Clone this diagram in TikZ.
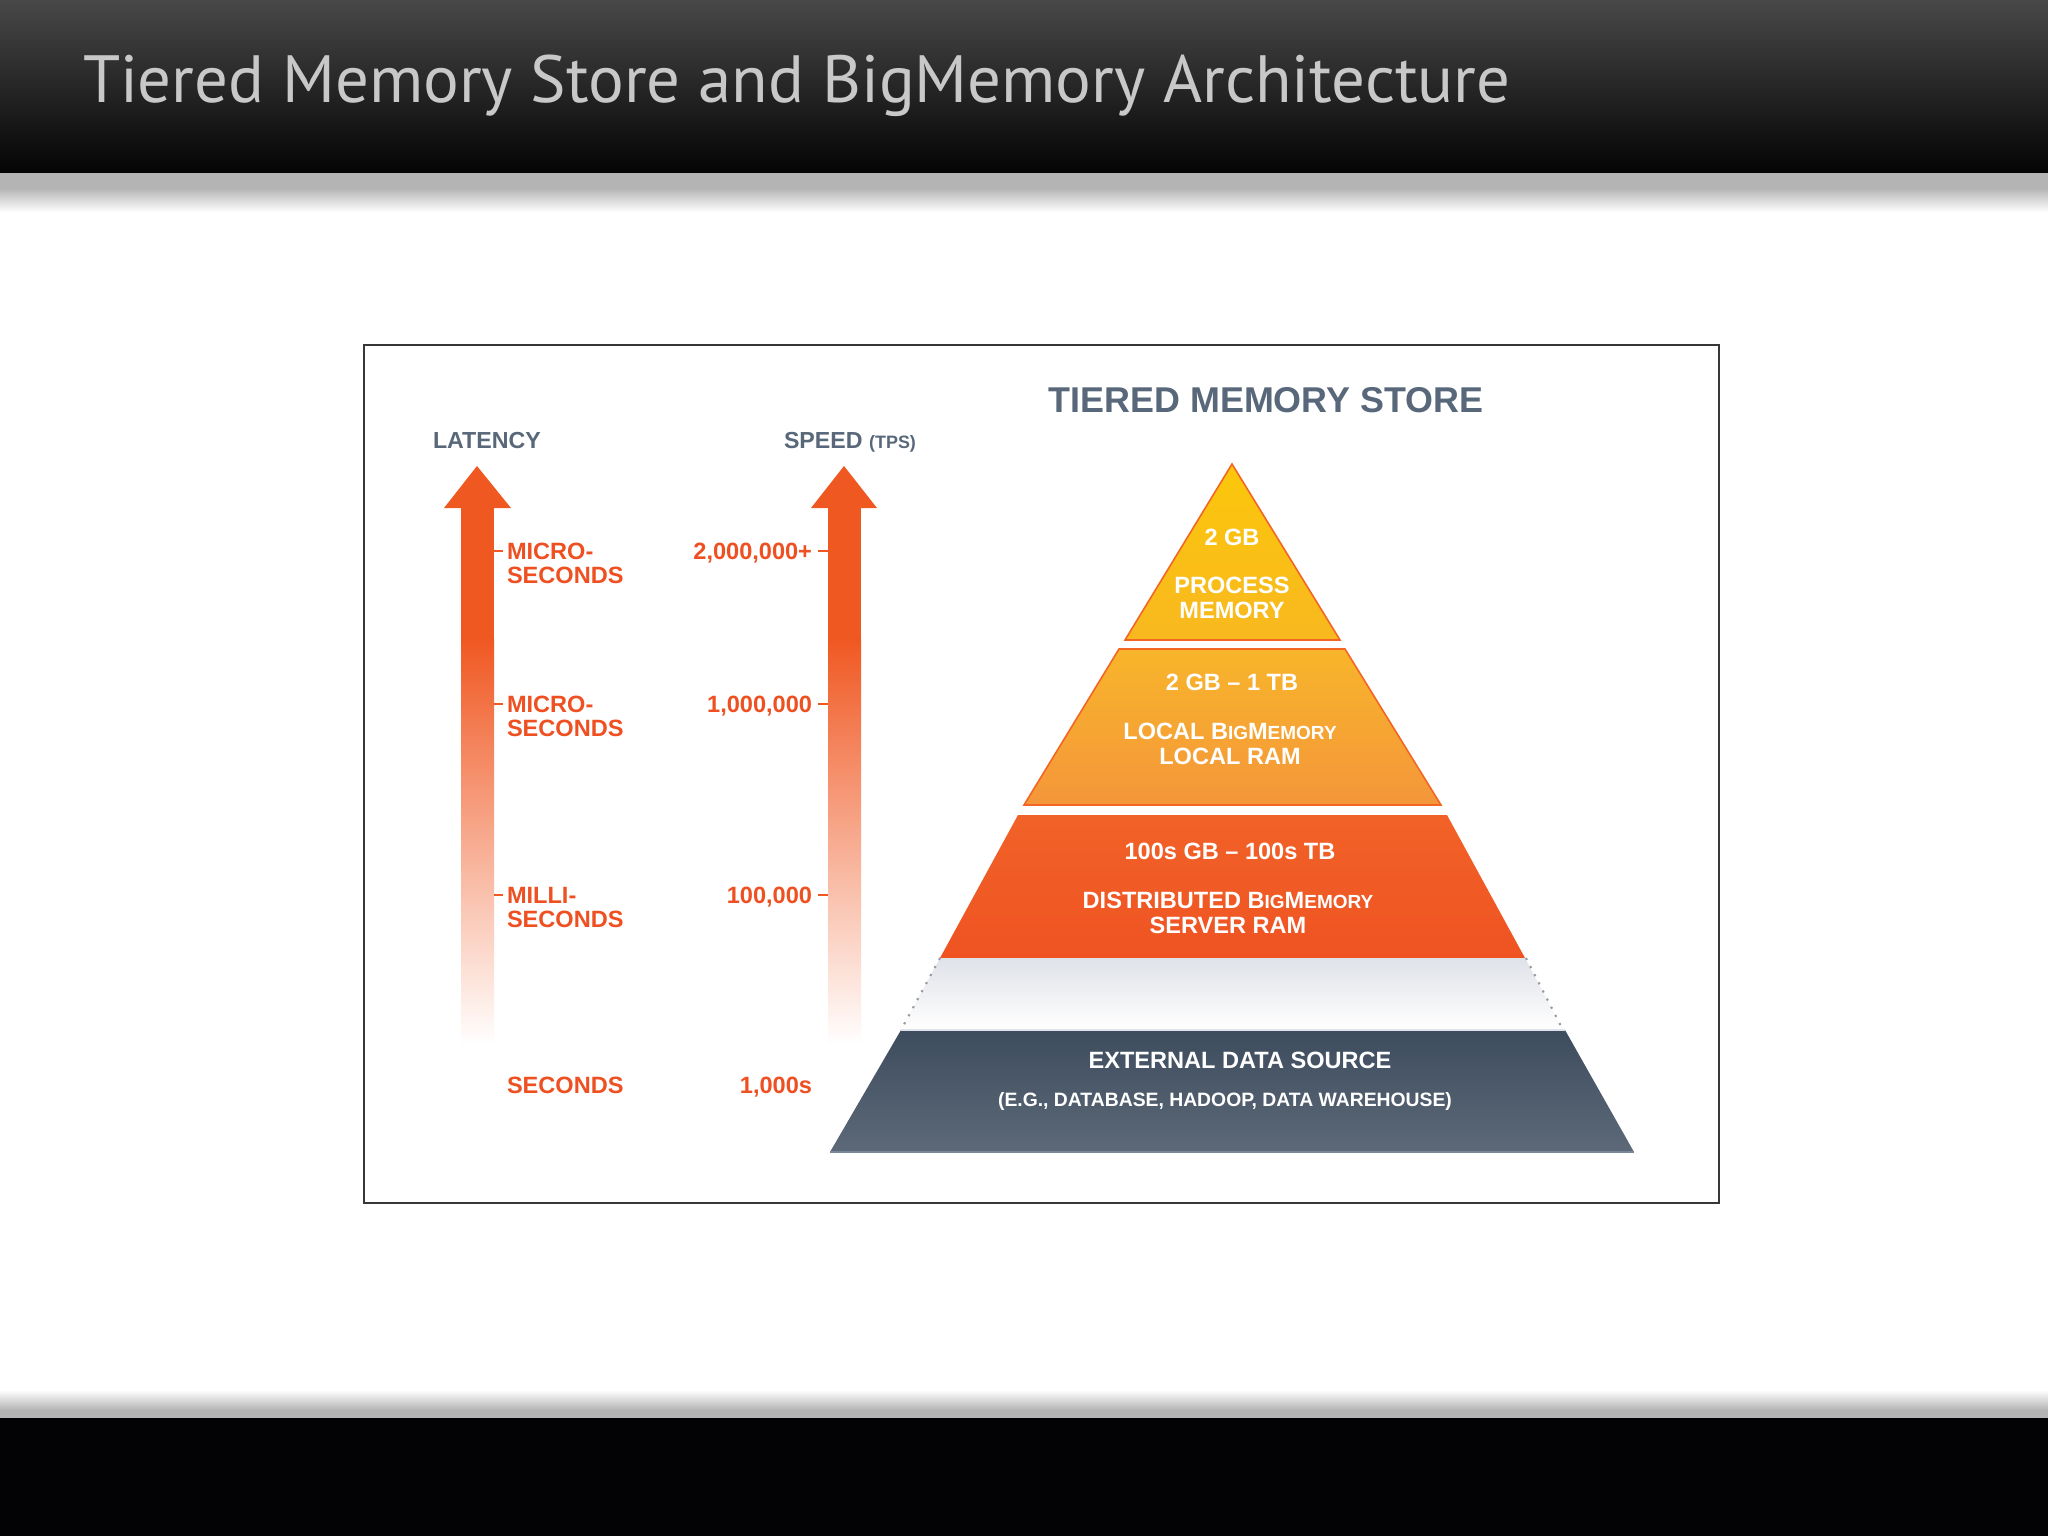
\documentclass[tikz,border=0pt]{standalone}
\usepackage{fontspec}
\setmainfont{Liberation Sans}
\newfontfamily\titlefont{PT Sans}
\definecolor{barTop}{RGB}{72,72,72}
\definecolor{barBot}{RGB}{4,4,4}
\definecolor{shadowGray}{RGB}{180,180,180}
\definecolor{titleGray}{RGB}{200,200,200}
\definecolor{frameGray}{RGB}{55,55,55}
\definecolor{slate}{RGB}{88,104,122}
\definecolor{orangeA}{RGB}{240,88,34}
\definecolor{labelRed}{RGB}{238,80,34}
\definecolor{orangeLine}{RGB}{242,101,34}
\definecolor{yellowTop}{RGB}{252,199,11}
\definecolor{yellowBot}{RGB}{248,184,31}
\definecolor{amberTop}{RGB}{248,181,42}
\definecolor{amberBot}{RGB}{244,150,59}
\definecolor{redTop}{RGB}{241,98,40}
\definecolor{redBot}{RGB}{239,83,34}
\definecolor{darkTop}{RGB}{61,76,94}
\definecolor{darkBot}{RGB}{93,105,120}
\definecolor{darkEdge}{RGB}{122,135,151}
\definecolor{gapTop}{RGB}{223,226,232}
\definecolor{dotGray}{RGB}{150,155,165}
\definecolor{footBlack}{RGB}{3,2,5}
\tikzset{
  txt/.style={inner sep=0pt, outer sep=0pt},
  lbl/.style={txt, text=labelRed, font=\bfseries\fontsize{6.7}{6.8}\selectfont, align=left},
  num/.style={txt, text=labelRed, font=\bfseries\fontsize{6.7}{6.8}\selectfont},
  axishead/.style={txt, text=slate, font=\bfseries\fontsize{6.6}{7}\selectfont},
  tier/.style={txt, text=white, font=\bfseries\fontsize{6.7}{7}\selectfont, align=center},
  tickline/.style={draw=orangeA, line width=0.6pt},
  tierline/.style={draw=orangeLine, line width=0.45pt},
  dotline/.style={draw=dotGray, line width=0.6pt, dotted},
}
\newcommand{\smc}[1]{{\fontsize{5.4}{6}\selectfont #1}}
\begin{document}
\begin{tikzpicture}[x=0.01cm,y=-0.01cm]
\useasboundingbox (0,0) rectangle (2048,1536);
% background
\fill[white] (0,0) rectangle (2048,1536);
% header bar
\shade[top color=barTop, bottom color=barBot] (0,0) rectangle (2048,173);
\fill[shadowGray] (0,173) rectangle (2048,188);
\shade[top color=shadowGray, bottom color=white] (0,188) rectangle (2048,212);
\node[txt, anchor=base west, text=titleGray, font=\titlefont\fontsize{19}{21}\selectfont] (title) at (83,102) {Tiered Memory Store and BigMemory Architecture};
% footer
\shade[top color=white, bottom color=shadowGray] (0,1390) rectangle (2048,1410);
\fill[shadowGray] (0,1410) rectangle (2048,1418);
\fill[footBlack] (0,1418) rectangle (2048,1536);
% frame
\draw[frameGray, line width=0.6pt, fill=white] (364,345) rectangle (1719,1203);

% axis headings
\node[axishead, anchor=base west] (latency) at (433,448) {LATENCY};
\node[axishead, anchor=base west] (speed) at (784,448) {SPEED {\fontsize{5.1}{6}\selectfont(TPS)}};

% left arrow
\fill[orangeA] (461,505) rectangle (494,640);
\shade[top color=orangeA, bottom color=white] (461,639) rectangle (494,1045);
\fill[orangeA] (477,466) -- (511,508) -- (444,508) -- cycle;
% right arrow
\fill[orangeA] (828,505) rectangle (861,640);
\shade[top color=orangeA, bottom color=white] (828,639) rectangle (861,1045);
\fill[orangeA] (844,466) -- (877,508) -- (811,508) -- cycle;

% latency labels
\node[lbl, anchor=north west] (lat1) at (507,543) {MICRO-\\SECONDS};
\node[lbl, anchor=north west] (lat2) at (507,696) {MICRO-\\SECONDS};
\node[lbl, anchor=north west] (lat3) at (507,887) {MILLI-\\SECONDS};
\node[num, anchor=base west] (lat4) at (507,1093) {SECONDS};
\foreach \yy in {551,704,895} {\draw[tickline] (494,\yy) -- (503,\yy);}
% speed labels
\node[num, anchor=base east] (sp1) at (812,559) {2,000,000+};
\node[num, anchor=base east] (sp2) at (812,712) {1,000,000};
\node[num, anchor=base east] (sp3) at (812,903) {100,000};
\node[num, anchor=base east] (sp4) at (812,1093) {1,000s};
\foreach \yy in {551,704,895} {\draw[tickline] (818,\yy) -- (828,\yy);}

% pyramid heading
\node[txt, anchor=base, text=slate, font=\bfseries\fontsize{10.2}{12}\selectfont] (store) at (1266,412) {TIERED MEMORY STORE};

% tier 1
\shade[top color=yellowTop, bottom color=yellowBot] (1232,464) -- (1340,640) -- (1125,640) -- cycle;
\draw[tierline] (1232,464) -- (1340,640) -- (1125,640) -- cycle;
% tier 2
\shade[top color=amberTop, bottom color=amberBot] (1119,649) -- (1345,649) -- (1441,805) -- (1024,805) -- cycle;
\draw[tierline] (1119,649) -- (1345,649) -- (1441,805) -- (1024,805) -- cycle;
% tier 3
\shade[top color=redTop, bottom color=redBot] (1018,815) -- (1447,815) -- (1525,958) -- (940,958) -- cycle;
% gap
\shade[top color=gapTop, bottom color=white] (940,958) -- (1525,958) -- (1563,1030) -- (901,1030) -- cycle;
\draw[dotline] (940,958) -- (901,1030);
\draw[dotline] (1526,958) -- (1563,1030);
% tier 4
\shade[top color=darkTop, bottom color=darkBot] (901,1030) -- (1565,1030) -- (1634,1152) -- (830,1152) -- cycle;
\draw[darkEdge, line width=0.5pt] (830,1152) -- (1634,1152);
\draw[gapTop, line width=0.5pt] (901,1030) -- (1565,1030);

% tier texts
\node[tier, anchor=base] (t1a) at (1232,545) {2 GB};
\node[tier, anchor=north] (t1b) at (1232,577) {PROCESS\\MEMORY};
\node[tier, anchor=base] (t2a) at (1232,690) {2 GB -- 1 TB};
\node[tier, anchor=north] (t2b) at (1230,723) {LOCAL B\smc{IG}M\smc{EMORY}\\LOCAL RAM};
\node[tier, anchor=base] (t3a) at (1230,859) {100s GB -- 100s TB};
\node[tier, anchor=north] (t3b) at (1228,892) {DISTRIBUTED B\smc{IG}M\smc{EMORY}\\SERVER RAM};
\node[tier, anchor=base] (t4a) at (1240,1068) {EXTERNAL DATA SOURCE};
\node[tier, anchor=base, font=\bfseries\fontsize{5.5}{6}\selectfont] (t4b) at (1225,1106) {(E.G., DATABASE, HADOOP, DATA WAREHOUSE)};
\end{tikzpicture}
\end{document}
